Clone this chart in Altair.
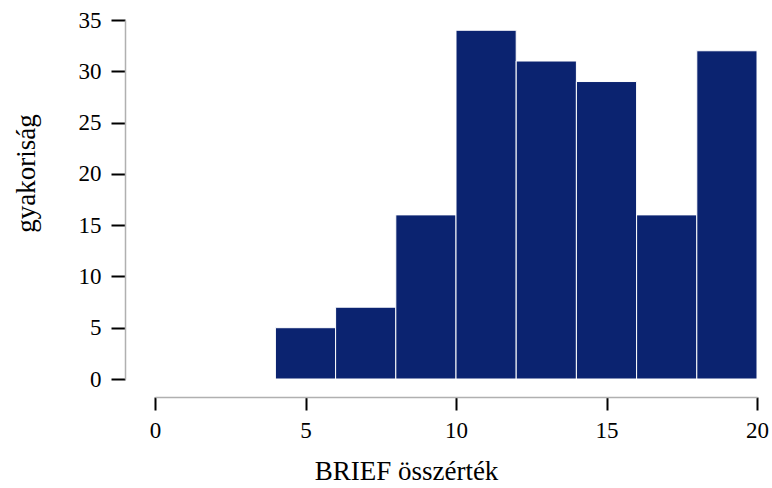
import altair as alt
import pandas as pd

bin_start = [4, 6, 8, 10, 12, 14, 16, 18]
bin_end = [6, 8, 10, 12, 14, 16, 18, 20]
counts = [5, 7, 16, 34, 31, 29, 16, 32]

df = pd.DataFrame({"start": bin_start, "end": bin_end, "count": counts})

FONT = "Liberation Serif"

chart = alt.Chart(df).mark_rect(
    color="#0b2370", stroke="white", strokeWidth=1
).encode(
    x=alt.X("start:Q", scale=alt.Scale(domain=[0, 20], nice=False, zero=False),
            axis=alt.Axis(values=[0, 5, 10, 15, 20], title="BRIEF összérték",
                          offset=18, tickSize=13, labelPadding=9, titlePadding=16,
                          labelFlush=False, titleX=251, grid=False)),
    x2="end:Q",
    y=alt.Y("count:Q", scale=alt.Scale(domain=[0, 35], nice=False),
            axis=alt.Axis(values=[0, 5, 10, 15, 20, 25, 30, 35], title="gyakoriság",
                          offset=30, tickSize=14, labelPadding=10, titlePadding=38,
                          labelFlush=False, titleY=153, grid=False)),
    y2=alt.Y2(datum=0),
).properties(
    width=602, height=359,
    autosize=alt.AutoSizeParams(type="none"),
    padding={"left": 155, "top": 20, "right": 15, "bottom": 109},
).configure_view(stroke=None).configure_axis(
    labelFont=FONT, titleFont=FONT, labelFontSize=23, titleFontSize=27,
    titleFontWeight="normal", labelColor="black", titleColor="black",
    domainColor="#b0b0b0", domainWidth=1.5, tickColor="black", tickWidth=2,
)

chart.save("out.html", embed_options={"renderer": "svg", "actions": False})
